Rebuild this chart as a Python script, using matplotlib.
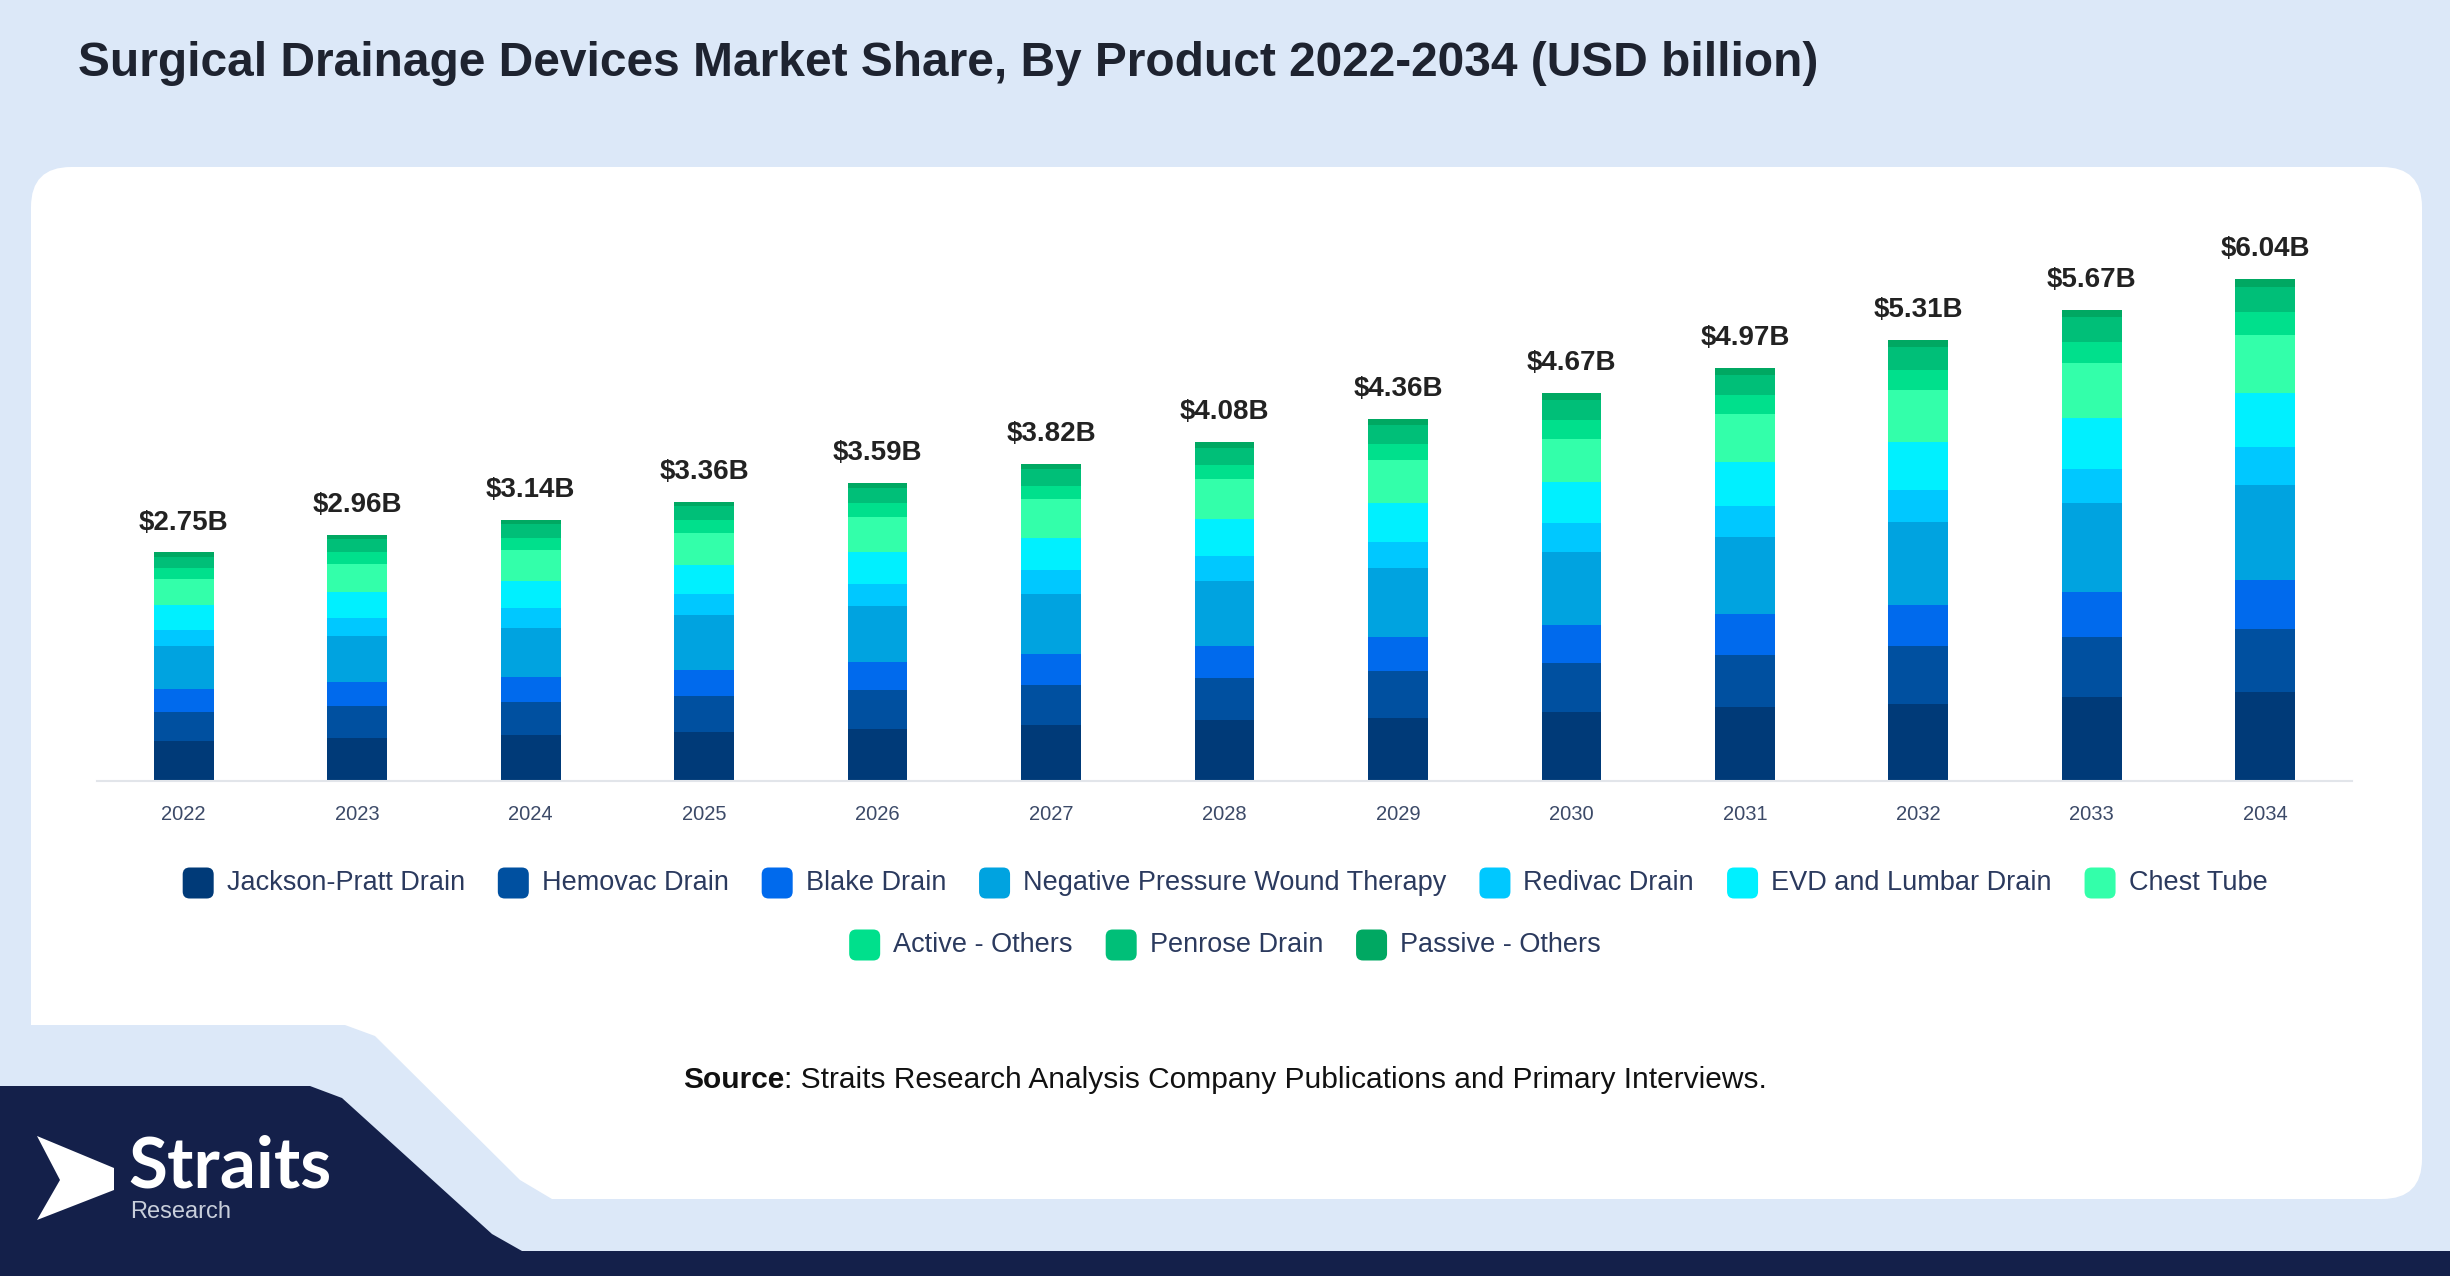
import numpy as np
import matplotlib
matplotlib.use("Agg")
import matplotlib.pyplot as plt
from matplotlib.patches import FancyBboxPatch, Polygon

plt.rcParams['font.family'] = ['Liberation Sans', 'DejaVu Sans']

# data (USD billion)
years = ['2022', '2023', '2024', '2025', '2026', '2027', '2028',
         '2029', '2030', '2031', '2032', '2033', '2034']
totals = ['$2.75B', '$2.96B', '$3.14B', '$3.36B', '$3.59B', '$3.82B', '$4.08B',
          '$4.36B', '$4.67B', '$4.97B', '$5.31B', '$5.67B', '$6.04B']

jackson_pratt = [0.48, 0.52, 0.55, 0.59, 0.63, 0.67, 0.73, 0.76, 0.83, 0.89, 0.93, 1.01, 1.07]
hemovac = [0.35, 0.38, 0.40, 0.43, 0.46, 0.48, 0.51, 0.56, 0.59, 0.63, 0.69, 0.72, 0.76]
blake = [0.28, 0.29, 0.30, 0.32, 0.34, 0.38, 0.39, 0.41, 0.46, 0.49, 0.50, 0.54, 0.59]
npwt = [0.51, 0.55, 0.59, 0.66, 0.68, 0.72, 0.78, 0.83, 0.88, 0.93, 1.00, 1.07, 1.14]
redivac = [0.20, 0.22, 0.24, 0.25, 0.26, 0.29, 0.30, 0.32, 0.34, 0.37, 0.38, 0.41, 0.46]
evd_lumbar = [0.30, 0.32, 0.33, 0.35, 0.39, 0.39, 0.44, 0.47, 0.50, 0.53, 0.58, 0.62, 0.65]
chest_tube = [0.31, 0.33, 0.37, 0.39, 0.42, 0.46, 0.48, 0.51, 0.52, 0.58, 0.63, 0.66, 0.70]
active_others = [0.13, 0.14, 0.15, 0.15, 0.16, 0.16, 0.17, 0.20, 0.22, 0.22, 0.24, 0.25, 0.27]
penrose = [0.14, 0.16, 0.16, 0.17, 0.19, 0.20, 0.21, 0.23, 0.25, 0.25, 0.27, 0.30, 0.31]
passive_others = [0.05, 0.05, 0.05, 0.05, 0.06, 0.07, 0.07, 0.07, 0.08, 0.08, 0.09, 0.09, 0.09]

series_names = ['Jackson-Pratt Drain', 'Hemovac Drain', 'Blake Drain',
                'Negative Pressure Wound Therapy', 'Redivac Drain',
                'EVD and Lumbar Drain', 'Chest Tube', 'Active - Others',
                'Penrose Drain', 'Passive - Others']
series_vals = [jackson_pratt, hemovac, blake, npwt, redivac, evd_lumbar,
               chest_tube, active_others, penrose, passive_others]
colors = ['#003A78', '#0050A0', '#006AED', '#00A3E0', '#00C8FF',
          '#00F0FF', '#33FFAA', '#00E08C', '#00BF78', '#00A862']

W, H = 2450, 1276
BG = '#DCE8F8'
NAVY = '#14204A'

fig = plt.figure(figsize=(W / 100, H / 100), dpi=100)
fig.patch.set_facecolor(BG)

# background layer in pixel coordinates
bg = fig.add_axes([0, 0, 1, 1], zorder=0)
bg.set_xlim(0, W)
bg.set_ylim(H, 0)
bg.axis('off')

card = FancyBboxPatch((31, 167), 2391, 1032, boxstyle='round,pad=0,rounding_size=40',
                      fc='white', ec='none')
bg.add_patch(card)
bg.add_patch(Polygon([(0, 1025), (345, 1025), (375, 1036), (520, 1180),
                      (552, 1199), (552, 1202), (0, 1202)], closed=True, fc=BG, ec='none'))
bg.add_patch(Polygon([(0, 1086), (310, 1086), (342, 1098), (492, 1234),
                      (522, 1251), (W, 1251), (W, H), (0, H)], closed=True,
                     fc=NAVY, ec='none'))

# logo
bg.add_patch(Polygon([(37, 1136), (114, 1168), (114, 1190), (37, 1220),
                      (60, 1180)], closed=True, fc='white', ec='none'))
bg.text(128, 1188, 'Straits', color='white', fontsize=51, fontweight='bold',
        family=['Lato', 'Liberation Sans'], ha='left', va='baseline')
bg.text(130, 1212, 'Research', color='#C9CFDB', fontsize=17, ha='left', va='center')

# title
fig.text(78 / W, 1 - 64 / H,
         'Surgical Drainage Devices Market Share, By Product 2022-2034 (USD billion)',
         fontsize=34.5, fontweight='bold', color='#1E2330', ha='left', va='center')

# chart
ax = fig.add_axes([97 / W, 1 - 781 / H, 2255 / W, 581.7 / H], zorder=1)
ax.patch.set_alpha(0)
x = np.arange(len(years))
bottom = np.zeros(len(years))
for name, vals, col in zip(series_names, series_vals, colors):
    ax.bar(x, vals, 0.345, bottom=bottom, color=col, linewidth=0, label=name)
    bottom += np.array(vals)

for xi, top, lab in zip(x, bottom, totals):
    ax.annotate(lab, (xi, top), xytext=(0, 12), textcoords='offset points',
                ha='center', va='bottom', fontsize=20, fontweight='bold', color='#222222')

ax.set_xlim(-0.5, 12.5)
ax.set_ylim(0, 7)
ax.set_xticks(x)
ax.set_xticklabels(years, fontsize=14.5, color='#3C4A68')
ax.tick_params(axis='x', length=0, pad=17)
ax.set_yticks([])
for s in ['top', 'right', 'left']:
    ax.spines[s].set_visible(False)
ax.spines['bottom'].set_color('#E2E5EA')
ax.spines['bottom'].set_linewidth(1.5)

# legend, two centred rows
renderer = fig.canvas.get_renderer()
rows = [(list(range(7)), 883), (list(range(7, 10)), 945)]
msize, tgap, igap = 31, 13, 33
for idx, yrow in rows:
    texts = []
    widths = []
    for i in idx:
        t = bg.text(0, yrow, series_names[i], fontsize=19.5, color='#2B3A5E',
                    ha='left', va='center')
        texts.append(t)
        widths.append(t.get_window_extent(renderer).width)
    total = sum(msize + tgap + w for w in widths) + igap * (len(idx) - 1)
    xpos = 1225 - total / 2
    for i, t, w in zip(idx, texts, widths):
        bg.add_patch(FancyBboxPatch((xpos, yrow - msize / 2), msize, msize,
                                    boxstyle='round,pad=0,rounding_size=7',
                                    fc=colors[i], ec='none'))
        t.set_x(xpos + msize + tgap)
        xpos += msize + tgap + w + igap

# source line
s1 = bg.text(0, 1080, 'Source', fontsize=21.5, fontweight='bold', color='#111111',
             ha='left', va='center')
s2 = bg.text(0, 1080, ': Straits Research Analysis Company Publications and Primary Interviews.',
             fontsize=21.5, color='#111111', ha='left', va='center')
w1 = s1.get_window_extent(renderer).width
w2 = s2.get_window_extent(renderer).width
x0 = 1225 - (w1 + w2) / 2
s1.set_x(x0)
s2.set_x(x0 + w1)

fig.savefig('out.png', dpi=100, facecolor=fig.get_facecolor())
